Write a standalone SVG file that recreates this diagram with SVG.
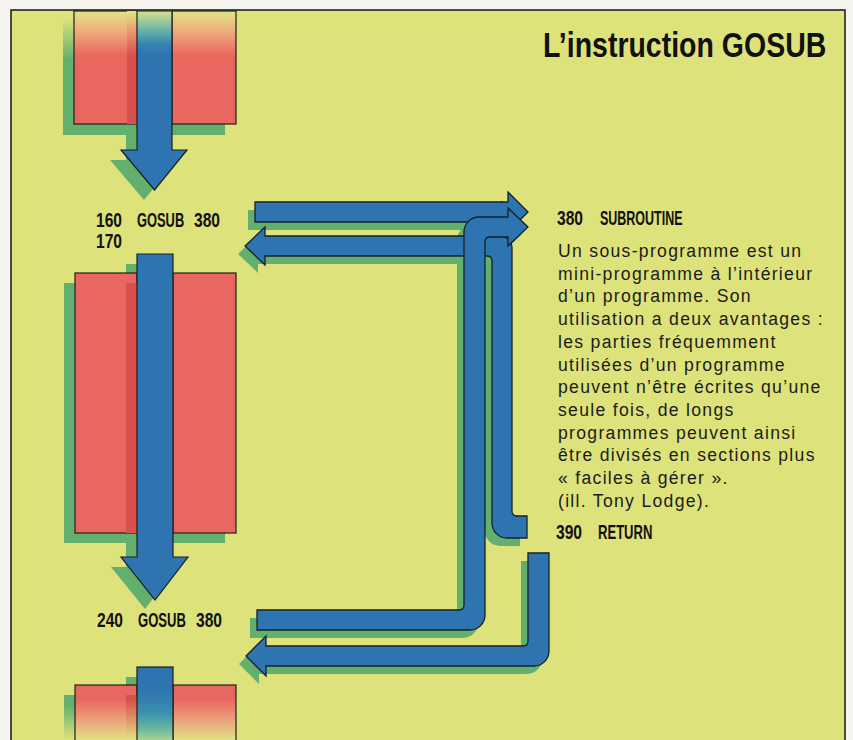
<svg xmlns="http://www.w3.org/2000/svg" width="853" height="740" viewBox="0 0 853 740">
<defs>
<style>
.blk{stroke:#1e1e1e;stroke-width:1.2}
.band{fill:#2e74b0;stroke:#17202c;stroke-width:1.3;stroke-linejoin:miter}
.sh{fill:#63b06e;stroke:none}
.lbl{font-family:"Liberation Sans",Arial,sans-serif;font-weight:bold;font-size:19.5px;fill:#111}
.body{font-family:"Liberation Sans",Arial,sans-serif;font-size:17.6px;letter-spacing:1.3px;fill:#1c1c1c}
</style>
<linearGradient id="gRedT" gradientUnits="userSpaceOnUse" x1="0" y1="12" x2="0" y2="55">
<stop offset="0" stop-color="#e3e283"/><stop offset="0.45" stop-color="#eeac7c"/><stop offset="1" stop-color="#e8685f"/>
</linearGradient>
<linearGradient id="gBlueT" gradientUnits="userSpaceOnUse" x1="0" y1="12" x2="0" y2="55">
<stop offset="0" stop-color="#d0df8e"/><stop offset="0.4" stop-color="#6fb7a6"/><stop offset="0.75" stop-color="#3583b2"/><stop offset="1" stop-color="#2e74b0"/>
</linearGradient>
<linearGradient id="gGreenT" gradientUnits="userSpaceOnUse" x1="0" y1="18" x2="0" y2="60">
<stop offset="0" stop-color="#dde27a"/><stop offset="1" stop-color="#63b06e"/>
</linearGradient>
<linearGradient id="gDRedT" gradientUnits="userSpaceOnUse" x1="0" y1="12" x2="0" y2="55">
<stop offset="0" stop-color="#e3e283"/><stop offset="0.45" stop-color="#e89870"/><stop offset="1" stop-color="#d9504d"/>
</linearGradient>
<linearGradient id="gRedB" gradientUnits="userSpaceOnUse" x1="0" y1="700" x2="0" y2="740">
<stop offset="0" stop-color="#e8685f"/><stop offset="0.5" stop-color="#eca27c"/><stop offset="1" stop-color="#e2e184"/>
</linearGradient>
<linearGradient id="gBlueB" gradientUnits="userSpaceOnUse" x1="0" y1="690" x2="0" y2="740">
<stop offset="0" stop-color="#2e74b0"/><stop offset="0.45" stop-color="#3a8fae"/><stop offset="0.8" stop-color="#6dbb9d"/><stop offset="1" stop-color="#a6d491"/>
</linearGradient>
<linearGradient id="gGreenB" gradientUnits="userSpaceOnUse" x1="0" y1="705" x2="0" y2="740">
<stop offset="0" stop-color="#63b06e"/><stop offset="1" stop-color="#dde27a"/>
</linearGradient>
<linearGradient id="gDRedB" gradientUnits="userSpaceOnUse" x1="0" y1="700" x2="0" y2="740">
<stop offset="0" stop-color="#d9504d"/><stop offset="1" stop-color="#e2e184"/>
</linearGradient>
<path id="pA" d="M255 202 L508 202 L508 192 L528 212 L508 232 L508 222 L255 222 Z"/>
<path id="pB" d="M527 516 L517 516 Q512 516 512 511 L512 248 A12 12 0 0 0 500 236 L265 236 L265 227 L245 246 L265 265 L265 256 L487 256 Q492 256 492 261 L492 523 A15 15 0 0 0 507 538 L527 538 Z"/>
<path id="pC" d="M257 610 L459 610 Q464 610 464 605 L464 232 A15 15 0 0 1 479 217 L508 217 L508 208 L528 227 L508 246 L508 237 L490 237 Q485 237 485 242 L485 615 A15 15 0 0 1 470 630 L257 630 Z"/>
<path id="pD" d="M528 553 L549 553 L549 651 A15 15 0 0 1 534 666 L266 666 L266 676 L246 656 L266 636 L266 646 L523 646 Q528 646 528 641 Z"/>
</defs>

<rect x="0" y="0" width="853" height="740" fill="#f5f3ee"/>
<rect id="frame" x="11" y="10" width="834" height="740" fill="#dde27a" stroke="#222" stroke-width="1.6"/>

<g id="block-top">
<rect x="63" y="11" width="162" height="124" fill="url(#gGreenT)"/>
<path d="M126 11 L161 11 L161 160 L177 160 L144 200 L110 160 L126 160 Z" fill="url(#gGreenT)"/>
<rect class="blk" x="74" y="11" width="63" height="113" fill="url(#gRedT)"/>
<rect class="blk" x="172" y="11" width="64" height="113" fill="url(#gRedT)"/>
<rect x="127" y="11" width="10" height="113" fill="url(#gDRedT)"/>
<path class="blk" d="M137 11 L172 11 L172 150 L187 150 L154.5 190 L121 150 L137 150 Z" fill="url(#gBlueT)"/>
</g>

<g id="block-mid">
<rect class="sh" x="64" y="283" width="161" height="260"/>
<path class="sh" d="M126 264 L162 264 L162 567 L177 567 L145 609 L111 567 L126 567 Z"/>
<rect class="blk" x="75" y="273" width="62" height="260" fill="#e8685f"/>
<rect class="blk" x="173" y="273" width="63" height="260" fill="#e8685f"/>
<rect x="126" y="283" width="11" height="250" fill="#d9504d"/>
<path class="blk" d="M137 254 L173 254 L173 557 L188 557 L155 600 L121 557 L137 557 Z" fill="#2e74b0"/>
</g>

<g id="block-bot">
<rect x="64" y="695" width="161" height="50" fill="url(#gGreenB)"/>
<rect x="126" y="677" width="36" height="70" fill="url(#gGreenB)"/>
<rect class="blk" x="75" y="685" width="62" height="60" fill="url(#gRedB)"/>
<rect class="blk" x="173" y="685" width="63" height="60" fill="url(#gRedB)"/>
<rect x="126" y="695" width="11" height="50" fill="url(#gDRedB)"/>
<rect class="blk" x="137" y="667" width="36" height="80" fill="url(#gBlueB)"/>
</g>

<g id="connectors">
<g transform="translate(-7,8)" class="sh">
<use href="#pA"/><use href="#pB"/><use href="#pC"/><use href="#pD"/>
</g>
<use id="return-170" href="#pB" class="band"/>
<use id="gosub-160" href="#pA" class="band"/>
<use id="gosub-240" href="#pC" class="band"/>
<use id="return-next" href="#pD" class="band"/>
</g>

<g id="title">
<text transform="translate(543,57) scale(0.814,1)" x="0" y="0" font-family="Liberation Sans, Arial, sans-serif" font-weight="bold" font-size="35" fill="#111">L’instruction GOSUB</text>
</g>

<g id="line-160">
<text class="lbl" transform="translate(96,227) scale(0.8,1)">160</text>
<text class="lbl" transform="translate(137,227) scale(0.66,1)">GOSUB</text>
<text class="lbl" transform="translate(194,227) scale(0.8,1)">380</text>
</g>
<g id="line-170">
<text class="lbl" transform="translate(96,248) scale(0.8,1)">170</text>
</g>
<g id="line-240">
<text class="lbl" transform="translate(97,627) scale(0.8,1)">240</text>
<text class="lbl" transform="translate(138,627) scale(0.67,1)">GOSUB</text>
<text class="lbl" transform="translate(196,627) scale(0.8,1)">380</text>
</g>

<g id="subroutine">
<text class="lbl" font-size="18" transform="translate(557,225) scale(0.8,1)">380</text>
<text class="lbl" font-size="18" transform="translate(600,225) scale(0.64,1)">SUBROUTINE</text>
<text class="body" x="558" y="257">Un sous-programme est un</text>
<text class="body" x="558" y="279.7">mini-programme à l’intérieur</text>
<text class="body" x="558" y="302.4">d’un programme. Son</text>
<text class="body" x="558" y="325.1">utilisation a deux avantages :</text>
<text class="body" x="558" y="347.8">les parties fréquemment</text>
<text class="body" x="558" y="370.5">utilisées d’un programme</text>
<text class="body" x="558" y="393.2">peuvent n’être écrites qu’une</text>
<text class="body" x="558" y="415.9">seule fois, de longs</text>
<text class="body" x="558" y="438.6">programmes peuvent ainsi</text>
<text class="body" x="558" y="461.3">être divisés en sections plus</text>
<text class="body" x="558" y="484">« faciles à gérer ».</text>
<text class="body" x="558" y="506.7">(ill. Tony Lodge).</text>
</g>

<g id="return">
<text class="lbl" font-size="18" transform="translate(556,539) scale(0.8,1)">390</text>
<text class="lbl" font-size="18" transform="translate(598,539) scale(0.67,1)">RETURN</text>
</g>
</svg>
